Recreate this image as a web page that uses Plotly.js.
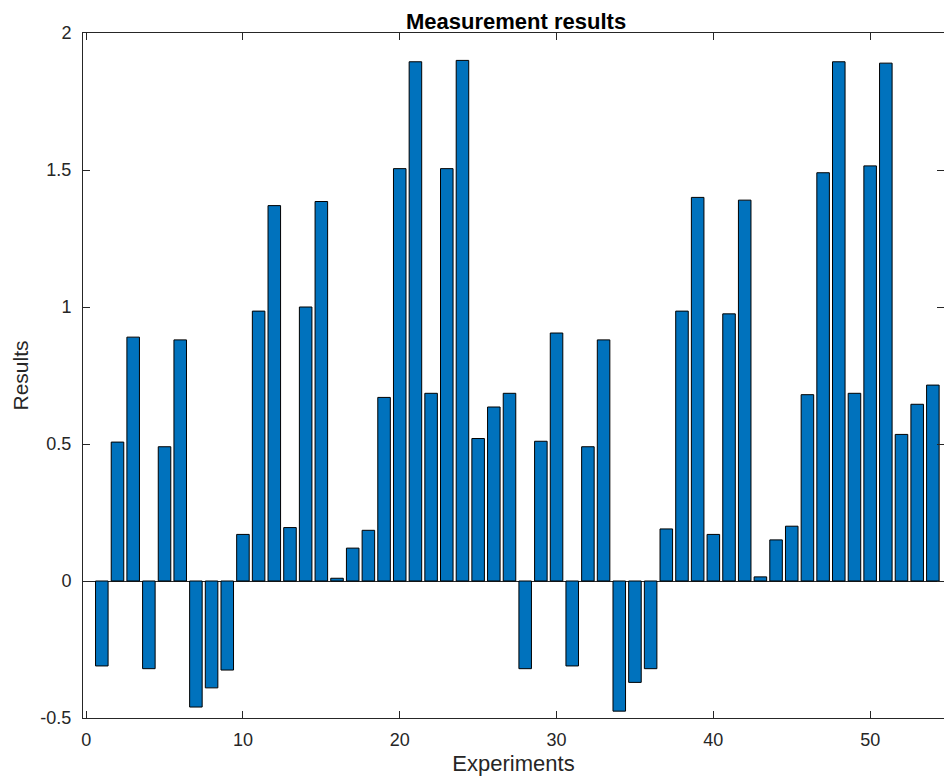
<!DOCTYPE html>
<html>
<head>
<meta charset="utf-8">
<script src="https://cdn.plot.ly/plotly-3.0.1.min.js"></script>
<style>
  html, body { margin: 0; padding: 0; background: #ffffff; }
  #chart { width: 944px; height: 779px; }
</style>
</head>
<body>
<div id="chart"></div>
<script>
// Experiment numbers and measured results
const experiments = Array.from({length: 54}, (_, i) => i + 1);
const results = [
  -0.31, 0.507, 0.89, -0.32, 0.49, 0.88, -0.46, -0.39, -0.325, 0.17,
  0.985, 1.37, 0.195, 1.0, 1.385, 0.01, 0.12, 0.185, 0.67, 1.505,
  1.895, 0.685, 1.505, 1.9, 0.52, 0.635, 0.685, -0.32, 0.51, 0.905,
  -0.31, 0.49, 0.88, -0.475, -0.37, -0.32, 0.19, 0.985, 1.4, 0.17,
  0.975, 1.39, 0.015, 0.15, 0.2, 0.68, 1.49, 1.895, 0.685, 1.515,
  1.89, 0.535, 0.645, 0.715
];
const xTicks = [0, 10, 20, 30, 40, 50];
const yTicks = [-0.5, 0, 0.5, 1, 1.5, 2];
const yTickText = ['-0.5', '0', '0.5', '1', '1.5', '2'];

const axisColor = '#262626';
const font = 'Liberation Sans, Arial, Helvetica, sans-serif';

const trace = {
  type: 'bar',
  x: experiments,
  y: results,
  width: 0.8,
  marker: { color: '#0072BD', line: { color: '#000000', width: 1 } },
  hoverinfo: 'x+y'
};

const layout = {
  width: 944,
  height: 779,
  margin: { l: 83, r: 0, t: 33, b: 61 },
  paper_bgcolor: '#ffffff',
  plot_bgcolor: '#ffffff',
  showlegend: false,
  bargap: 0,
  font: { family: font, color: axisColor, size: 18 },
  title: {
    text: '<b>Measurement results</b>',
    font: { family: font, size: 22, color: '#000000' },
    x: 0.503, xanchor: 'center', xref: 'paper',
    y: 1, yref: 'paper', yanchor: 'bottom', pad: { b: 4 }
  },
  xaxis: {
    range: [-0.2, 54.71],
    tickvals: xTicks,
    ticks: 'inside', ticklen: 7, tickwidth: 1, tickcolor: axisColor,
    showline: true, linecolor: axisColor, linewidth: 1, mirror: 'ticks',
    showgrid: false, zeroline: false,
    ticklabelstandoff: 5,
    tickfont: { family: font, size: 18, color: axisColor },
    title: { text: 'Experiments', font: { family: font, size: 22, color: axisColor }, standoff: 7 }
  },
  yaxis: {
    range: [-0.5, 2],
    tickvals: yTicks,
    ticktext: yTickText,
    ticks: 'inside', ticklen: 7, tickwidth: 1, tickcolor: axisColor,
    showline: true, linecolor: axisColor, linewidth: 1, mirror: 'ticks',
    showgrid: false,
    zeroline: true, zerolinecolor: axisColor, zerolinewidth: 1,
    ticklabelstandoff: 7,
    tickfont: { family: font, size: 18, color: axisColor },
    title: { text: 'Results', font: { family: font, size: 21, color: axisColor }, standoff: 6 }
  }
};

Plotly.newPlot('chart', [trace], layout, { displayModeBar: false, staticPlot: true });
</script>
</body>
</html>
